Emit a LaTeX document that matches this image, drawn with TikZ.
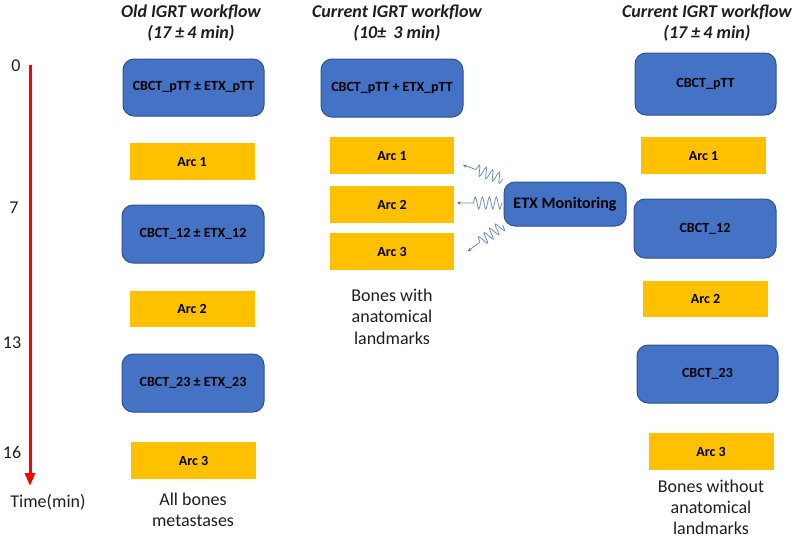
\documentclass[tikz,border=0pt]{standalone}
\usepackage{fontspec}
\setmainfont{Carlito}
\usetikzlibrary{arrows.meta,decorations.pathmorphing}
\definecolor{boxblue}{HTML}{4472C4}
\definecolor{boxedge}{HTML}{2F528F}
\definecolor{arcgold}{HTML}{FFC000}
\definecolor{wavecol}{HTML}{6C8EBF}
\definecolor{txt}{HTML}{1E1E1E}
\tikzset{
  cbox/.style={draw=boxedge, fill=boxblue, line width=1pt, rounded corners=11pt,
    text=black, font=\fontsize{14}{16}\selectfont\bfseries, inner sep=0pt},
  arcbox/.style={fill=arcgold, text=black, inner sep=0pt, minimum width=125pt,
    minimum height=36.5pt, font=\fontsize{14}{16}\selectfont\bfseries},
  headtxt/.style={align=center, text=txt, font=\fontsize{18}{21.5}\selectfont\bfseries\itshape},
  labtxt/.style={align=center, text=txt, font=\fontsize{18}{21.5}\selectfont},
  axtxt/.style={text=txt, font=\fontsize{18}{21.5}\selectfont},
  wave/.style={draw=wavecol, line width=0.8pt, decorate,
    decoration={snake, amplitude=5.5pt, segment length=7pt, post length=13pt},
    -{Stealth[length=3.5pt,width=3pt,color=gray!70!black]}}
}
\begin{document}
\begin{tikzpicture}[x=1pt,y=-1pt]
\useasboundingbox (0,0) rectangle (800,539);
% time axis
\coordinate (axtop) at (30,65);
\coordinate (axbot) at (30,486);
\draw[red, line width=3pt, -{Triangle[length=13pt,width=10pt]}] (axtop) -- (axbot);
\node[axtxt] (t0) at (16,66) {0};
\node[axtxt] (t7) at (14,208) {7};
\node[axtxt] (t13) at (12,343) {13};
\node[axtxt] (t16) at (12,452) {16};
\node[axtxt] (tlab) at (48,502) {Time(min)};
% column 1
\node[headtxt] (h1) at (191,23) {Old IGRT workflow\\(17 ±\,4 min)};
\node[cbox, minimum width=141pt, minimum height=57pt] (o0) at (193.5,87.5) {CBCT\_pTT ± ETX\_pTT};
\node[arcbox] (oa1) at (192,161.5) {Arc 1};
\node[cbox, minimum width=142pt, minimum height=58pt] (o12) at (193,234) {CBCT\_12 ± ETX\_12};
\node[arcbox] (oa2) at (192,309) {Arc 2};
\node[cbox, minimum width=142pt, minimum height=58pt] (o23) at (193,383) {CBCT\_23 ± ETX\_23};
\node[arcbox] (oa3) at (193.5,460.5) {Arc 3};
\node[labtxt] (ol) at (193,510) {All bones\\metastases};
% column 2
\node[headtxt] (h2) at (397,23) {Current IGRT workflow\\(10±\, 3 min)};
\node[cbox, minimum width=142pt, minimum height=58pt] (c0) at (392,88) {CBCT\_pTT + ETX\_pTT};
\node[arcbox, minimum width=124pt, minimum height=37pt] (ca1) at (392,155.5) {Arc 1};
\node[arcbox, minimum width=124pt, minimum height=37pt] (ca2) at (392,204.5) {Arc 2};
\node[arcbox, minimum width=124pt, minimum height=37pt] (ca3) at (392,251.5) {Arc 3};
\node[labtxt] (cl) at (392,316.5) {Bones with\\anatomical\\landmarks};
\node[cbox, minimum width=122pt, minimum height=44pt, font=\fontsize{16}{19}\selectfont\bfseries] (etx) at (565,204) {ETX Monitoring};
% signal waves
\coordinate (wa) at (503,179);
\coordinate (wta) at (463,165);
\coordinate (wb) at (502,203);
\coordinate (wtb) at (457,203);
\coordinate (wc) at (503,225);
\coordinate (wtc) at (468,251);
\draw[wave] (wa) -- (wta);
\draw[wave, decoration={amplitude=6pt}] (wb) -- (wtb);
\draw[wave] (wc) -- (wtc);
% column 3
\node[headtxt] (h3) at (707,23) {Current IGRT workflow\\(17 ±\,4 min)};
\node[cbox, minimum width=141pt, minimum height=62pt] (n0) at (705.5,84) {CBCT\_pTT};
\node[arcbox] (na1) at (703.5,155.5) {Arc 1};
\node[cbox, minimum width=142pt, minimum height=59pt] (n12) at (705,228.5) {CBCT\_12};
\node[arcbox] (na2) at (705.5,299) {Arc 2};
\node[cbox, minimum width=141pt, minimum height=58pt] (n23) at (707.5,374) {CBCT\_23};
\node[arcbox] (na3) at (711,451.5) {Arc 3};
\node[labtxt, font=\fontsize{18}{21}\selectfont] (nl) at (711,507) {Bones without\\anatomical\\landmarks};
\end{tikzpicture}
\end{document}
